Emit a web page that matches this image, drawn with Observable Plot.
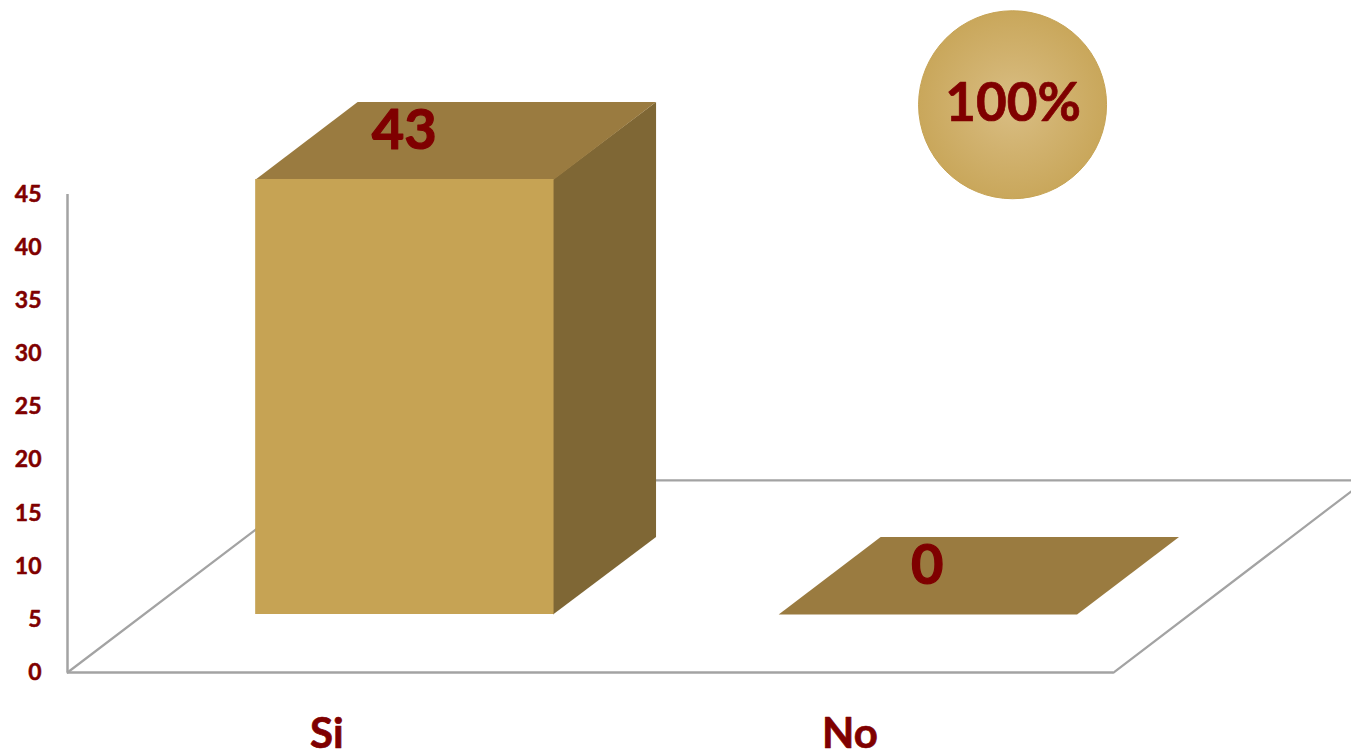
<!DOCTYPE html>
<html>
<head>
<meta charset="utf-8">
<script src="https://cdn.jsdelivr.net/npm/d3@7"></script>
<script src="https://cdn.jsdelivr.net/npm/@observablehq/plot@0.6"></script>
<style>
html,body{margin:0;padding:0;background:#fff;overflow:hidden}
svg{display:block}
</style>
</head>
<body>
<div id="chart"></div>
<script>
const categories = ["Si", "No"];
const values = [43, 0];
const yTicks = [0, 5, 10, 15, 20, 25, 30, 35, 40, 45];
const shareLabel = "100%";

// Oblique projection of the 3D chart, in scale units
const depthX = 0.195, depthY = 7.3, floorY = 5.46;
const barOffset = 0.3598, barWidth = 0.5705, foreshorten = 0.9524;
const floorBackX = 0.484, floorBackY = 18.08, floorEndX = 2.482;
const seam = 0.002;

const textColor = "#7f0000";
const front = "#c6a354", top_ = "#9a7b40", side = "#7f6735", lineColor = "#a3a3a3";
const font = "Lato";

const bars = categories.map((name, i) => {
  const x0 = i + barOffset, x1 = x0 + barWidth;
  const y0 = floorY, y1 = floorY + values[i] * foreshorten;
  return {name, value: values[i], i, x0, x1, y0, y1};
});
const poly = (pts) => pts.map(([x, y]) => ({x, y}));
const topFace = (b) => poly([[b.x0, b.y1], [b.x1, b.y1], [b.x1 + depthX, b.y1 + depthY], [b.x0 + depthX, b.y1 + depthY]]);
const sideFace = (b) => poly([[b.x1 - seam, b.y0], [b.x1 - seam, b.y1], [b.x1 + depthX, b.y1 + depthY], [b.x1 + depthX, b.y0 + depthY]]);

const gradient = () => {
  const defs = d3.create("svg:defs");
  const g = defs.append("radialGradient").attr("id", "coinGrad");
  g.append("stop").attr("offset", "0%").attr("stop-color", "#d9be84");
  g.append("stop").attr("offset", "50%").attr("stop-color", "#d1b26f");
  g.append("stop").attr("offset", "100%").attr("stop-color", "#c9a75b");
  return defs.node();
};

const chart = Plot.plot({
  width: 1351, height: 752,
  marginLeft: 67, marginRight: 238, marginTop: 194, marginBottom: 80,
  x: {domain: [0, 2], axis: null},
  y: {domain: [0, 45], axis: null},
  style: {fontFamily: font, background: "#fff", overflow: "hidden"},
  marks: [
    gradient,
    // floor
    Plot.line(poly([[0, 0], [floorBackX, floorBackY], [floorEndX, floorBackY], [2, 0]]),
      {x: "x", y: "y", stroke: lineColor, strokeWidth: 2.2}),
    Plot.ruleX([0], {y1: 0, y2: 45, stroke: lineColor, strokeWidth: 2.5}),
    Plot.ruleY([0], {x1: 0, x2: 2, stroke: lineColor, strokeWidth: 2.5}),
    // bars
    ...bars.flatMap((b) => [
      Plot.line(sideFace(b), {x: "x", y: "y", fill: side, stroke: "none"}),
      Plot.line(topFace(b), {x: "x", y: "y", fill: top_, stroke: "none"}),
      Plot.rect([b], {x1: "x0", x2: "x1", y1: "y0", y2: "y1", fill: front})
    ]),
    // labels
    Plot.axisY({ticks: yTicks, tickSize: 0, tickPadding: 26, fontSize: 23, fontWeight: 700, fill: textColor,
      textStroke: textColor, textStrokeWidth: 0.5, label: null}),
    Plot.text(bars, {x: (d) => d.i + 0.496, y: -5.85, text: "name", fontSize: 42, fontWeight: 700,
      fill: textColor, stroke: textColor, strokeWidth: 0.7}),
    Plot.text(bars, {x: (d) => d.x0 + barWidth / 2 - 0.001, y: (d) => d.y1 + 4.55, text: (d) => String(d.value), fontSize: 56, fontWeight: 700,
      fill: textColor, stroke: textColor, strokeWidth: 1.2}),
    // share coin
    Plot.dot([shareLabel], {x: () => 1.807, y: () => 53.45, r: 94, fill: "url(#coinGrad)", stroke: "#c6a354", strokeWidth: 1}),
    Plot.text([shareLabel], {x: () => 1.808, y: () => 53.5, text: (d) => d, fontSize: 53, fontWeight: 700,
      fill: textColor, stroke: textColor, strokeWidth: 0.7})
  ]
});
document.getElementById("chart").append(chart);
</script>
</body>
</html>
